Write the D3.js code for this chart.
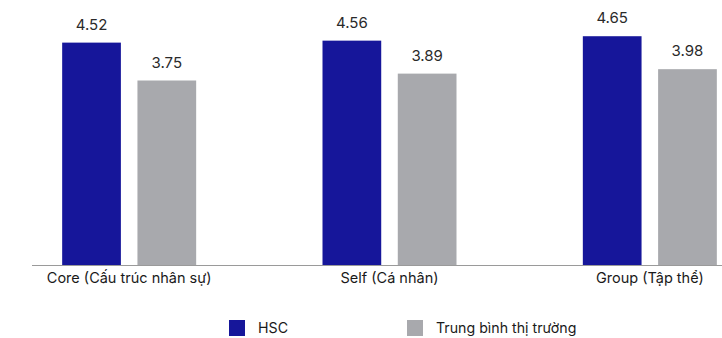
<!DOCTYPE html>
<html>
<head>
<meta charset="utf-8">
<script src="https://cdn.jsdelivr.net/npm/d3@7"></script>
<style>
  html, body { margin: 0; padding: 0; background: #fff; }
  svg { display: block; font-family: Inter, "Noto Sans", sans-serif; }
</style>
</head>
<body>
<svg id="chart" width="722" height="338"></svg>
<script>
const categories = ["Core (Cấu trúc nhân sự)", "Self (Cá nhân)", "Group (Tập thể)"];
const seriesNames = ["HSC", "Trung bình thị trường"];
const hscValues = [4.52, 4.56, 4.65];
const marketValues = [3.75, 3.89, 3.98];
const colors = ["#16169a", "#a8a9ad"];

const svg = d3.select("#chart");
const baseY = 265;

const x0 = d3.scaleBand().domain(categories).range([-1, 780]).paddingInner(0).paddingOuter(0);
const x1 = d3.scaleBand().domain(seriesNames).range([-67, 67]).paddingInner(0.22).paddingOuter(0);
const y = d3.scaleLinear().domain([0, 5]).range([baseY, baseY - 5 * 49.2]);

const data = categories.map((c, i) => ({
  cat: c,
  vals: [
    { name: seriesNames[0], v: hscValues[i] },
    { name: seriesNames[1], v: marketValues[i] }
  ]
}));

const g = svg.append("g");
const groups = g.selectAll("g.grp").data(data).join("g")
  .attr("transform", d => `translate(${x0(d.cat) + x0.bandwidth() / 2},0)`);

groups.selectAll("rect").data(d => d.vals).join("rect")
  .attr("x", d => x1(d.name))
  .attr("width", x1.bandwidth())
  .attr("y", d => y(d.v))
  .attr("height", d => y(0) - y(d.v))
  .attr("fill", (d, i) => colors[i]);

groups.selectAll("text.val").data(d => d.vals).join("text")
  .attr("class", "val")
  .attr("x", d => x1(d.name) + x1.bandwidth() / 2)
  .attr("y", d => y(d.v) - 13)
  .attr("text-anchor", "middle")
  .attr("font-size", 15)
  .attr("fill", "#2a2a2a")
  .text(d => d.v.toFixed(2));

// axis
const axis = d3.axisBottom(x0).tickSize(0).tickPadding(8);
const axG = svg.append("g").attr("transform", `translate(0,${baseY})`).call(axis);
axG.select(".domain").remove();
axG.append("line").attr("x1", 32).attr("x2", 722).attr("y1", 0.5).attr("y2", 0.5)
  .attr("stroke", "#9a9a9a").attr("stroke-width", 1);
axG.selectAll(".tick text")
  .attr("font-family", "Inter, 'Noto Sans', sans-serif")
  .attr("font-size", 14.5)
  .attr("fill", "#1a1a1a");

// legend
const legendX = [229, 407];
const leg = svg.append("g").selectAll("g").data(seriesNames).join("g")
  .attr("transform", (d, i) => `translate(${legendX[i]},320)`);
leg.append("rect").attr("width", 16).attr("height", 16).attr("fill", (d, i) => colors[i]);
leg.append("text").attr("x", 29).attr("y", 13)
  .attr("font-size", 14.2).attr("fill", "#1a1a1a").text(d => d);
</script>
</body>
</html>
